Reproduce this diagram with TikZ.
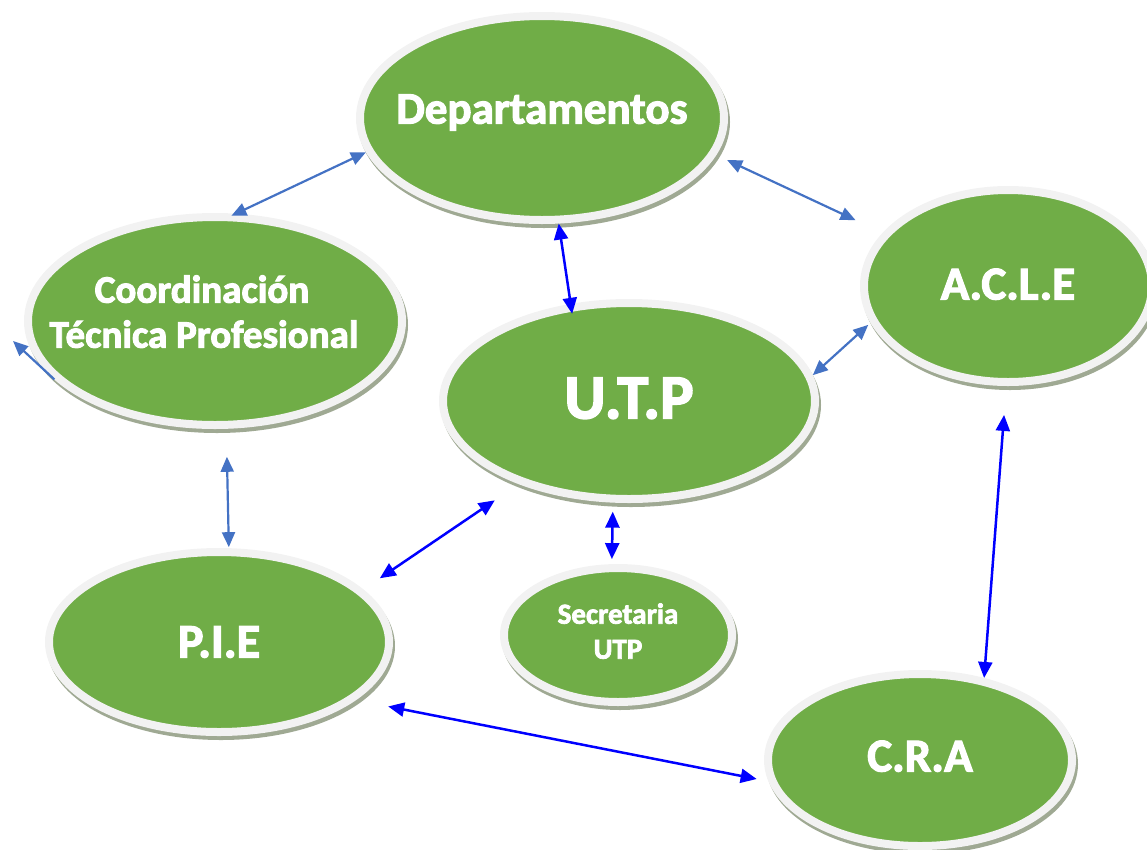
\documentclass[tikz,border=0pt]{standalone}
\usepackage{fontspec}
\setmainfont{Carlito}[BoldFeatures={FakeBold=2.5}]
\usepackage{tikz}
\usetikzlibrary{arrows.meta,shapes.geometric}
\definecolor{leaf}{HTML}{70AD47}
\definecolor{rim}{HTML}{F2F2F2}
\definecolor{shade}{HTML}{9FA993}
\definecolor{linkblue}{HTML}{4472C4}
\definecolor{mainblue}{HTML}{0000FF}
\tikzstyle{area}=[ellipse,fill=leaf,draw=rim,line width=8pt,inner ysep=0pt,inner xsep=-40pt,text=white,font=\bfseries,align=center,
    preaction={draw=shade,line width=8pt,transform canvas={shift={(2pt,-4pt)}}}]
\tikzstyle{link} = [draw,line width=2.2pt,color=linkblue,{Triangle[length=15pt,width=13pt]}-{Triangle[length=15pt,width=13pt]}]
\tikzstyle{mainlink} = [draw,line width=2.5pt,color=mainblue,{Triangle[length=16pt,width=14pt]}-{Triangle[length=16pt,width=14pt]}]

\begin{document}
\begin{tikzpicture}[x=1pt,y=-1pt]
    \useasboundingbox (0,0) rectangle (1147,849);
    % First we draw the areas
    \node[area,minimum width=364pt,minimum height=204pt,text depth=18pt,font=\bfseries\fontsize{45}{54}\selectfont] (dep) at (542,118) {Departamentos};
    \node[area,minimum width=374pt,minimum height=208pt,text depth=19pt,font=\bfseries\fontsize{39}{45}\selectfont] (coord) at (215,321) {Coordinación\hspace*{26pt}\\Técnica Profesional\hspace*{22pt}};
    \node[area,minimum width=372pt,minimum height=196pt,text depth=6pt,font=\bfseries\fontsize{63}{70}\selectfont] (utp) at (629,401) {U.T.P};
    \node[area,minimum width=288pt,minimum height=192pt,text depth=4pt,font=\bfseries\fontsize{47}{54}\selectfont] (acle) at (1008,286) {A.C.L.E};
    \node[area,minimum width=340pt,minimum height=180pt,font=\bfseries\fontsize{48}{54}\selectfont] (pie) at (219,642) {P.I.E};
    \node[area,minimum width=304pt,minimum height=172pt,text depth=8pt,font=\bfseries\fontsize{47}{54}\selectfont] (cra) at (920,760) {C.R.A};
    \node[area,minimum width=228pt,minimum height=134pt,text depth=8pt,font=\bfseries\fontsize{29}{35}\selectfont] (sec) at (618,635) {Secretaria\\UTP};
    \coordinate (stub) at (13,341);
    % Connect areas with links
    \foreach \a/\b/\s/\t in {dep.191/coord.79/0/-5, dep.348/acle.157/12/30, acle.195/utp.8/3/0, coord.276/pie.84/28/1}
        \path[link,shorten <=\s pt,shorten >=\t pt] (\a) -- (\b);
    \foreach \a/\b/\s/\t in {dep.279/utp.121/0/-10, utp.261/sec.95/9/5, utp.217/pie.20/29/20, pie.337/cra.188/33/12, acle.269/cra.52/29/0}
        \path[mainlink,shorten <=\s pt,shorten >=\t pt] (\a) -- (\b);
    \path[link,-{Triangle[length=15pt,width=13pt]}] (coord.200) -- (stub);
\end{tikzpicture}
\end{document}
